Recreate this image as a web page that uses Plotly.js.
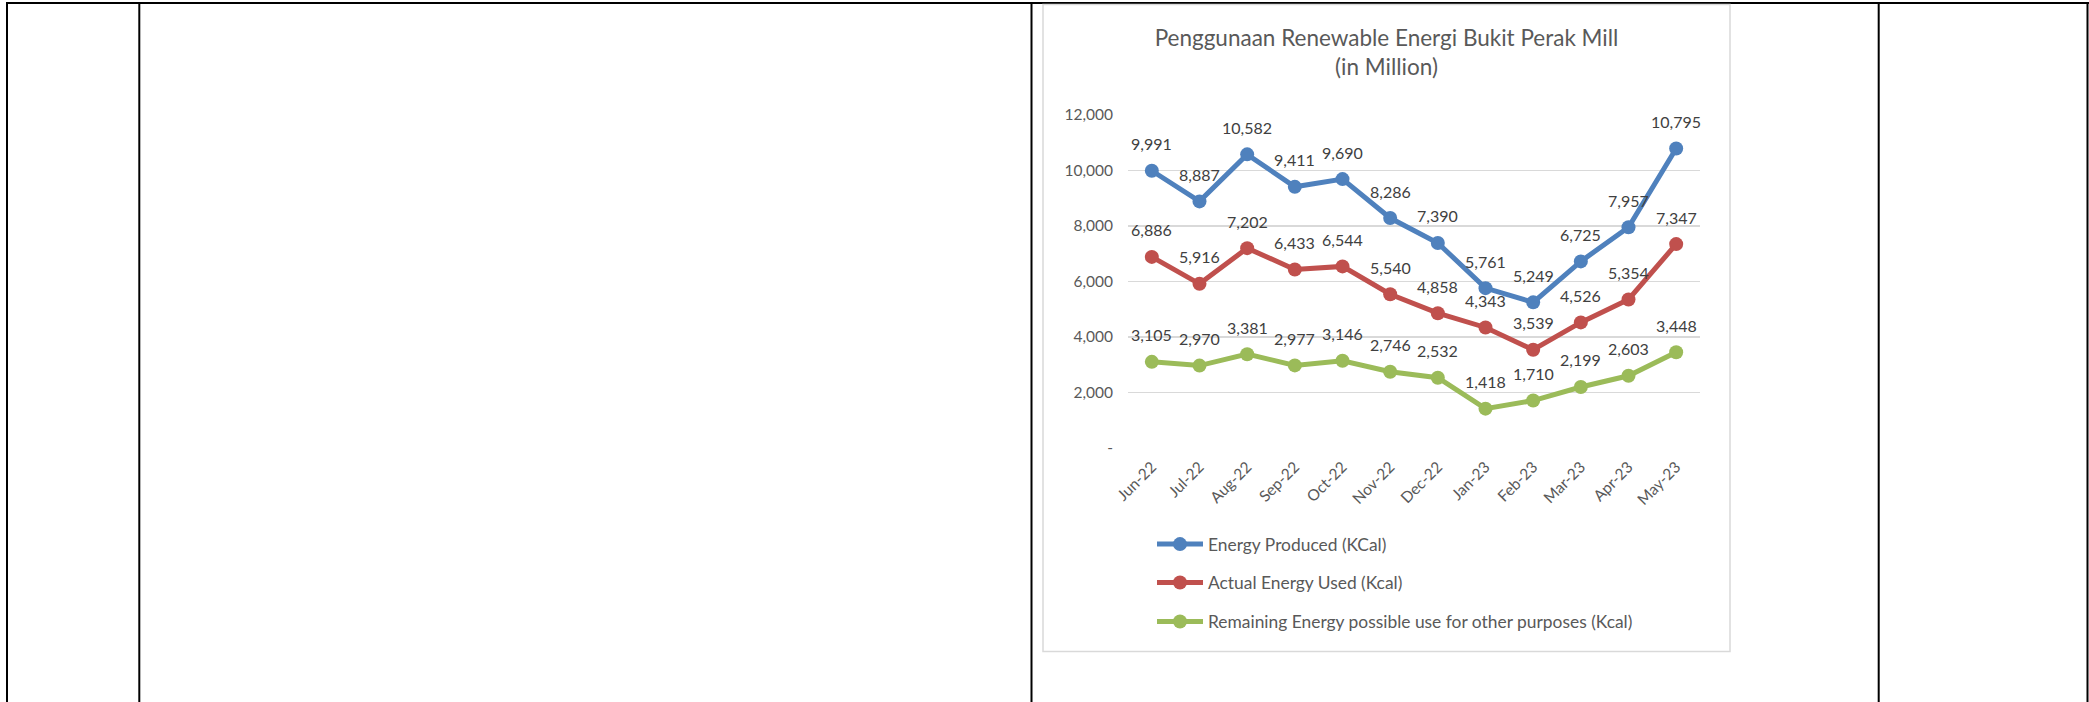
<!DOCTYPE html>
<html>
<head>
<meta charset="utf-8">
<script src="https://cdn.plot.ly/plotly-3.0.1.min.js"></script>
<style>
html,body{margin:0;padding:0;background:#ffffff;overflow:hidden}
#chart{width:2089px;height:702px}
</style>
</head>
<body>
<div id="chart"></div>
<script>
// ---------- data ----------
const months = ['Jun-22','Jul-22','Aug-22','Sep-22','Oct-22','Nov-22','Dec-22','Jan-23','Feb-23','Mar-23','Apr-23','May-23'];
const energyProduced = [9991, 8887, 10582, 9411, 9690, 8286, 7390, 5761, 5249, 6725, 7957, 10795];
const actualEnergyUsed = [6886, 5916, 7202, 6433, 6544, 5540, 4858, 4343, 3539, 4526, 5354, 7347];
const remainingEnergy = [3105, 2970, 3381, 2977, 3146, 2746, 2532, 1418, 1710, 2199, 2603, 3448];
const seriesNames = ['Energy Produced (KCal)', 'Actual Energy Used (Kcal)', 'Remaining Energy possible use for other purposes (Kcal)'];
const seriesColors = ['#4F81BD', '#C0504D', '#9BBB59'];
const yTickValues = [0, 2000, 4000, 6000, 8000, 10000, 12000];
const yTickLabels = ['-', '2,000', '4,000', '6,000', '8,000', '10,000', '12,000'];
const chartTitle = 'Penggunaan Renewable Energi Bukit Perak Mill<br>(in Million)';

// ---------- geometry (pixels) ----------
const W = 2089, H = 702;
const PL = 1128, PR = 1700, PT = 115, PB = 448.3;
const px = x => (x - PL) / (PR - PL);
const py = y => (PB - y) / (PB - PT);

const FONT = 'Lato, "Open Sans", sans-serif';
const seriesValues = [energyProduced, actualEnergyUsed, remainingEnergy];
const legendIds = ['legend', 'legend2', 'legend3'];

const traces = seriesValues.map((vals, k) => ({
  type: 'scatter',
  mode: 'lines+markers',
  x: months,
  y: vals,
  name: seriesNames[k],
  legend: legendIds[k],
  line: {color: seriesColors[k], width: 5},
  marker: {color: seriesColors[k], size: 14},
  cliponaxis: false,
  hoverinfo: 'skip'
}));

const fmt = v => v.toLocaleString('en-US');
const annotations = [];
seriesValues.forEach(vals => {
  vals.forEach((v, i) => {
    annotations.push({
      x: months[i], y: v, xref: 'x', yref: 'y',
      text: fmt(v), showarrow: false, yshift: 27,
      font: {family: FONT, size: 16, color: '#404040'}
    });
  });
});

// table borders and chart frame
const black = {color: '#000000', width: 2};
const shapes = [];
shapes.push({type: 'line', xref: 'paper', yref: 'paper', x0: px(6), x1: px(2089), y0: py(3), y1: py(3), line: black, layer: 'below'});
[7, 139.3, 1031.5, 1878.7, 2087.5].forEach(x => {
  shapes.push({type: 'line', xref: 'paper', yref: 'paper', x0: px(x), x1: px(x), y0: py(2), y1: py(705), line: black, layer: 'below'});
});
shapes.push({type: 'rect', xref: 'paper', yref: 'paper', x0: px(1043), x1: px(1730), y0: py(4.5), y1: py(652),
  line: {color: '#D9D9D9', width: 1.5}, fillcolor: '#FFFFFF', layer: 'below'});

const legendYs = [544.3, 582.7, 621.7];
const legendBase = {
  xref: 'container', yref: 'container', xanchor: 'left', yanchor: 'middle',
  itemwidth: 46, bgcolor: 'rgba(0,0,0,0)', borderwidth: 0,
  font: {family: FONT, size: 17.4, color: '#595959'}
};

const layout = {
  width: W, height: H,
  margin: {l: PL, r: W - PR, t: PT, b: H - PB, pad: 0, autoexpand: false},
  paper_bgcolor: 'rgba(0,0,0,0)',
  plot_bgcolor: 'rgba(0,0,0,0)',
  font: {family: FONT, color: '#595959'},
  title: {
    text: chartTitle,
    font: {family: FONT, size: 22.5, color: '#595959'},
    x: 1386.5 / W, xref: 'container', xanchor: 'center',
    y: 1 - 46 / H, yref: 'container', yanchor: 'top'
  },
  xaxis: {
    type: 'category', range: [-0.5, months.length - 0.5],
    tickangle: -45, ticks: '', showgrid: false, zeroline: false, showline: false,
    tickfont: {family: FONT, size: 15.5, color: '#595959'},
    ticklabelstandoff: 6, fixedrange: true
  },
  yaxis: {
    range: [0, 12000], tickvals: yTickValues, ticktext: yTickLabels,
    ticks: '', showgrid: true, gridcolor: '#D9D9D9', gridwidth: 1.3,
    zeroline: false, showline: false,
    tickfont: {family: FONT, size: 15.5, color: '#595959'},
    ticklabelstandoff: 14, fixedrange: true
  },
  showlegend: true,
  legend: Object.assign({}, legendBase, {x: 1152 / W, y: 1 - legendYs[0] / H}),
  legend2: Object.assign({}, legendBase, {x: 1152 / W, y: 1 - legendYs[1] / H}),
  legend3: Object.assign({}, legendBase, {x: 1152 / W, y: 1 - legendYs[2] / H}),
  annotations: annotations,
  shapes: shapes
};

Plotly.newPlot('chart', traces, layout, {displayModeBar: false, staticPlot: true});
</script>
</body>
</html>
